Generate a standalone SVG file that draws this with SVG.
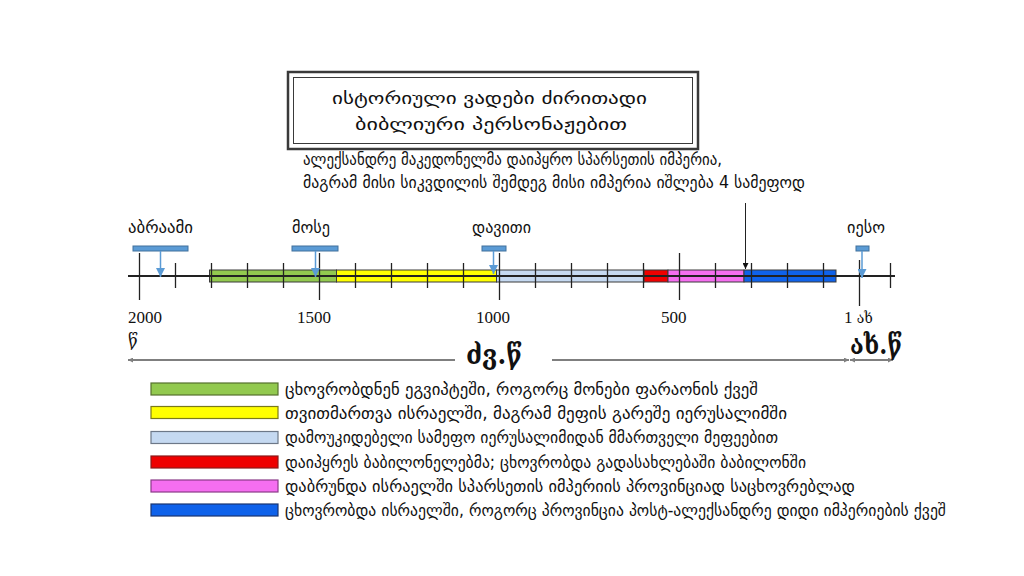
<svg xmlns="http://www.w3.org/2000/svg" width="1024" height="576" viewBox="0 0 1024 576">
<defs>
<style>
.geo{font-family:"DejaVu Sans","Noto Sans",sans-serif;font-size:17px;fill:#111}
.num{font-family:"Liberation Serif","DejaVu Serif",serif;font-size:17px;fill:#111}
.bold{font-family:"DejaVu Serif","DejaVu Sans",serif;font-weight:bold;fill:#111}
.tick{stroke:#222;stroke-width:1.3}
.bar{stroke:#3a3a3a;stroke-width:1}
.pbar{fill:#5B9BD5;stroke:#41719C;stroke-width:1}
.parrow{stroke:#5B9BD5;stroke-width:1.5;fill:none}
.era{stroke:#7f7f7f;stroke-width:2;fill:none}
</style>
<marker id="ah" viewBox="0 0 10 10" refX="10" refY="5" markerWidth="5" markerHeight="5" orient="auto" markerUnits="userSpaceOnUse">
<path d="M0,0 L10,5 L0,10 z" fill="#7f7f7f"/>
</marker>
<marker id="ahb" viewBox="0 0 10 10" refX="10" refY="5" markerWidth="6" markerHeight="6" orient="auto" markerUnits="userSpaceOnUse">
<path d="M0,0 L10,5 L0,10 z" fill="#111"/>
</marker>
<marker id="ahp" viewBox="0 0 10 10" refX="10" refY="5" markerWidth="10" markerHeight="9" orient="auto" markerUnits="userSpaceOnUse">
<path d="M0,0 L10,5 L0,10 z" fill="#5B9BD5"/>
</marker>
</defs>
<rect width="1024" height="576" fill="#fff"/>

<g id="title">
<rect x="288" y="72" width="410" height="77" fill="#fff" stroke="#3a3a3a" stroke-width="2.5"/>
<rect x="293.5" y="77.5" width="399" height="66" fill="none" stroke="#3a3a3a" stroke-width="1"/>
<text class="geo" x="489.5" y="104" font-size="23" text-anchor="middle" textLength="315" lengthAdjust="spacingAndGlyphs">ისტორიული ვადები ძირითადი</text>
<text class="geo" x="491" y="130" font-size="23" text-anchor="middle" textLength="272" lengthAdjust="spacingAndGlyphs">ბიბლიური პერსონაჟებით</text>
</g>

<g id="alexander-note">
<text class="geo" x="303" y="165" textLength="419" lengthAdjust="spacingAndGlyphs">ალექსანდრე მაკედონელმა დაიპყრო სპარსეთის იმპერია,</text>
<text class="geo" x="303" y="188" textLength="502" lengthAdjust="spacingAndGlyphs">მაგრამ მისი სიკვდილის შემდეგ მისი იმპერია იშლება 4 სამეფოდ</text>
</g>

<g id="timeline-bars">
<rect class="bar" x="209.5" y="270" width="127" height="12" fill="#92C94F"/>
<rect class="bar" x="336.5" y="270" width="160" height="12" fill="#FFFF00"/>
<rect class="bar" x="496.5" y="270" width="147.5" height="12" fill="#C5D9F1"/>
<rect class="bar" x="644" y="270" width="24" height="12" fill="#EE0000"/>
<rect class="bar" x="668" y="270" width="76" height="12" fill="#F56EF0"/>
<rect class="bar" x="744" y="270" width="92" height="12" fill="#0F62EA"/>
</g>

<g id="axis">
<line x1="128" y1="276" x2="895" y2="276" stroke="#222" stroke-width="2"/>
<g class="tick">
<line x1="139.5" y1="253" x2="139.5" y2="300"/>
<line x1="175.5" y1="263" x2="175.5" y2="288"/>
<line x1="211.5" y1="263" x2="211.5" y2="288"/>
<line x1="247.5" y1="263" x2="247.5" y2="288"/>
<line x1="283.5" y1="263" x2="283.5" y2="288"/>
<line x1="319.5" y1="253" x2="319.5" y2="300"/>
<line x1="355.5" y1="263" x2="355.5" y2="288"/>
<line x1="391.5" y1="263" x2="391.5" y2="288"/>
<line x1="427.5" y1="263" x2="427.5" y2="288"/>
<line x1="463.5" y1="263" x2="463.5" y2="288"/>
<line x1="499.5" y1="253" x2="499.5" y2="300"/>
<line x1="535.5" y1="263" x2="535.5" y2="288"/>
<line x1="571.5" y1="263" x2="571.5" y2="288"/>
<line x1="607.5" y1="263" x2="607.5" y2="288"/>
<line x1="643.5" y1="263" x2="643.5" y2="288"/>
<line x1="679.5" y1="253" x2="679.5" y2="300"/>
<line x1="715.5" y1="263" x2="715.5" y2="288"/>
<line x1="751.5" y1="263" x2="751.5" y2="288"/>
<line x1="787.5" y1="263" x2="787.5" y2="288"/>
<line x1="823.5" y1="263" x2="823.5" y2="288"/>
<line x1="859.5" y1="260" x2="859.5" y2="306"/>
<line x1="890.5" y1="263" x2="890.5" y2="288"/>
</g>
<text class="num" x="128" y="323">2000</text>
<text class="num" x="297" y="323">1500</text>
<text class="num" x="476" y="323">1000</text>
<text class="num" x="661" y="323">500</text>
<text class="num" x="844" y="323">1 <tspan font-family="DejaVu Serif,serif" font-size="14">ახ</tspan></text>
<text class="num" x="128" y="346" font-family="DejaVu Serif,serif" font-size="15">წ</text>
</g>

<g id="person-abraham">
<text class="geo" x="128" y="233" textLength="65" lengthAdjust="spacingAndGlyphs">აბრაამი</text>
<rect class="pbar" x="133" y="246" width="55" height="5"/>
<line class="parrow" x1="160.5" y1="251" x2="160.5" y2="277" marker-end="url(#ahp)"/>
</g>
<g id="person-moses">
<text class="geo" x="292" y="233" textLength="38" lengthAdjust="spacingAndGlyphs">მოსე</text>
<rect class="pbar" x="292" y="246" width="46" height="5"/>
<line class="parrow" x1="315.5" y1="251" x2="315.5" y2="277" marker-end="url(#ahp)"/>
</g>
<g id="person-david">
<text class="geo" x="472" y="233" textLength="59" lengthAdjust="spacingAndGlyphs">დავითი</text>
<rect class="pbar" x="482" y="246" width="24" height="5"/>
<line class="parrow" x1="493.5" y1="251" x2="493.5" y2="274" marker-end="url(#ahp)"/>
</g>
<g id="person-jesus">
<text class="geo" x="847" y="233" textLength="38" lengthAdjust="spacingAndGlyphs">იესო</text>
<rect class="pbar" x="856" y="246" width="13" height="5"/>
<line class="parrow" x1="862" y1="251" x2="862" y2="278" marker-end="url(#ahp)"/>
</g>

<g id="connectors">
<line x1="745.5" y1="203" x2="745.5" y2="269" stroke="#222" stroke-width="1" marker-end="url(#ahb)"/>
<line class="era" x1="455" y1="360" x2="128" y2="360" marker-end="url(#ah)"/>
<line class="era" x1="552" y1="360" x2="849" y2="360" marker-end="url(#ah)"/>
<line class="era" x1="870" y1="360" x2="850" y2="360" marker-end="url(#ah)"/>
<line class="era" x1="860" y1="360" x2="893" y2="360" marker-end="url(#ah)"/>
</g>

<g id="era-labels">
<text class="bold" x="466" y="364" font-size="26" textLength="56" lengthAdjust="spacingAndGlyphs">ძვ.წ</text>
<text class="bold" x="850" y="354" font-size="26" textLength="52" lengthAdjust="spacingAndGlyphs">ახ.წ</text>
</g>

<g id="legend">
<rect x="151" y="383" width="127" height="12" fill="#92C94F" stroke="#55712e" stroke-width="1.2"/>
<rect x="151" y="406.5" width="127" height="12" fill="#FFFF00" stroke="#7a7a1a" stroke-width="1.2"/>
<rect x="151" y="431.5" width="127" height="12" fill="#C5D9F1" stroke="#6d7888" stroke-width="1.2"/>
<rect x="151" y="456" width="127" height="12" fill="#EE0000" stroke="#8a1a1a" stroke-width="1.2"/>
<rect x="151" y="480" width="127" height="12" fill="#F56EF0" stroke="#8a3a88" stroke-width="1.2"/>
<rect x="151" y="504" width="127" height="12" fill="#0F62EA" stroke="#1a3570" stroke-width="1.2"/>
<text class="geo" x="285" y="395" textLength="473" lengthAdjust="spacingAndGlyphs">ცხოვრობდნენ ეგვიპტეში, როგორც მონები ფარაონის ქვეშ</text>
<text class="geo" x="285" y="419" textLength="502" lengthAdjust="spacingAndGlyphs">თვითმართვა ისრაელში, მაგრამ მეფის გარეშე იერუსალიმში</text>
<text class="geo" x="285" y="443" textLength="493" lengthAdjust="spacingAndGlyphs">დამოუკიდებელი სამეფო იერუსალიმიდან მმართველი მეფეებით</text>
<text class="geo" x="285" y="468" textLength="521" lengthAdjust="spacingAndGlyphs">დაიპყრეს ბაბილონელებმა; ცხოვრობდა გადასახლებაში ბაბილონში</text>
<text class="geo" x="285" y="492" textLength="570" lengthAdjust="spacingAndGlyphs">დაბრუნდა ისრაელში სპარსეთის იმპერიის პროვინციად საცხოვრებლად</text>
<text class="geo" x="285" y="516" textLength="661" lengthAdjust="spacingAndGlyphs">ცხოვრობდა ისრაელში, როგორც პროვინცია პოსტ-ალექსანდრე დიდი იმპერიების ქვეშ</text>
</g>
</svg>
